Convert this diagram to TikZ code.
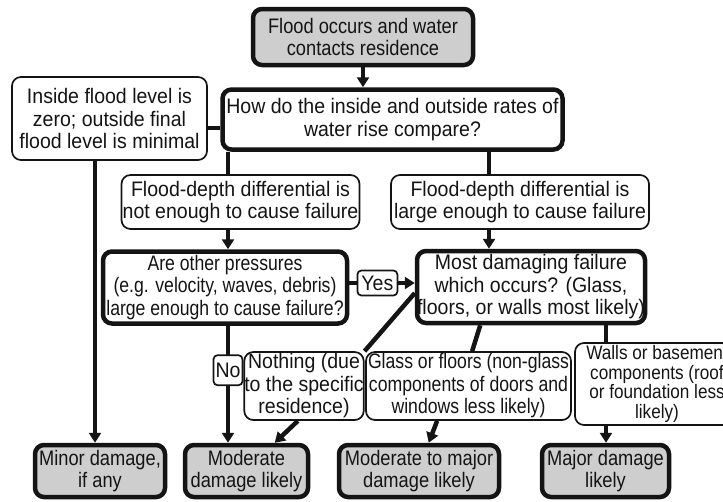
\documentclass[tikz,border=0pt]{standalone}
\usepackage{fontspec}
\setmainfont{Liberation Sans}[FakeStretch=0.93]
\newfontfamily\condfont{Liberation Sans}[FakeStretch=0.84]
\newfontfamily\midfont{Liberation Sans}[FakeStretch=0.87]
\newfontfamily\wallfont{Liberation Sans}[FakeStretch=0.88]
\usetikzlibrary{arrows.meta}
\definecolor{boxgray}{RGB}{206,206,206}
\definecolor{inkc}{RGB}{20,20,20}
\begin{document}
\begin{tikzpicture}[x=1pt,y=-1pt,
  base/.style={rounded corners=9pt, align=center, inner sep=0pt, text=inkc,
    font=\fontsize{21}{22.5}\selectfont},
  thinbox/.style={base, draw=inkc, line width=1.7pt, fill=white},
  thickbox/.style={base, draw=inkc, line width=4.5pt, fill=white},
  resultbox/.style={thickbox, fill=boxgray, font=\midfont\fontsize{21}{22.5}\selectfont},
  condtext/.style={font=\condfont\fontsize{21}{22.5}\selectfont},
  labbox/.style={thinbox, rounded corners=4pt},
  conn/.style={draw=inkc, line width=4.5pt},
  arr/.style={conn, -{Triangle[length=10pt,width=12pt]}}
]
\useasboundingbox[fill=white] (0,0) rectangle (723,501);

% coordinates for columns / rows
\coordinate (colI) at (95,0);
\coordinate (colL) at (228,0);
\coordinate (colR) at (489,0);
\coordinate (colW) at (606,0);
\coordinate (row1) at (0,128);
\coordinate (rowY) at (0,283);

% nodes
\node[resultbox, minimum width=220, minimum height=56] (top) at (363,37) {Flood occurs and water\\contacts residence};
\node[thickbox, minimum width=340, minimum height=60] (how) at (392.5,119.5) {How do the inside and outside rates of\\water rise compare?};
\node[thinbox, minimum width=195, minimum height=83] (inside) at (109.5,118.5) {Inside flood level is\\zero; outside final\\flood level is minimal};
\node[thinbox, minimum width=238, minimum height=54] (notenough) at (240.5,202) {Flood-depth differential is\\not enough to cause failure};
\node[thinbox, minimum width=258, minimum height=54] (largeenough) at (520,202) {Flood-depth differential is\\large enough to cause failure};
\node[thickbox, condtext, minimum width=244, minimum height=72] (are) at (225,287.5) {Are other pressures\\(e.g. velocity, waves, debris)\\large enough to cause failure?};
\node[thickbox, minimum width=228, minimum height=72] (most) at (531,287) {Most damaging failure\\which occurs? (Glass,\\floors, or walls most likely)};
\node[thinbox, minimum width=118, minimum height=68] (nothing) at (304,386) {Nothing (due\\to the specific\\residence)};
\node[thinbox, condtext, minimum width=205, minimum height=68] (glass) at (468.5,386) {Glass or floors (non-glass\\components of doors and\\windows less likely)};
\node[thinbox, minimum width=164, minimum height=82, font=\wallfont\fontsize{19.5}{19.5}\selectfont] (walls) at (657,384) {Walls or basement\\components (roof\\or foundation less\\likely)};
\node[resultbox, minimum width=130, minimum height=52] (minor) at (100,471) {Minor damage,\\if any};
\node[resultbox, minimum width=123, minimum height=52] (moderate) at (246.5,471) {Moderate\\damage likely};
\node[resultbox, minimum width=160, minimum height=52] (modmajor) at (419,471) {Moderate to major\\damage likely};
\node[resultbox, minimum width=127, minimum height=52] (major) at (605.5,471) {Major damage\\likely};

% connectors
\draw[arr] (top.south) -- (how.north -| top.south);
\draw[conn] (inside.east |- row1) -- (how.west |- row1);
\draw[arr] (inside.south -| colI) -- (minor.north -| colI);
\draw[conn] (how.south -| colL) -- (notenough.north -| colL);
\draw[arr] (notenough.south -| colL) -- (are.north -| colL);
\draw[conn] (how.south -| colR) -- (largeenough.north -| colR);
\draw[arr] (largeenough.south -| colR) -- (most.north -| colR);
\draw[arr] (are.east |- rowY) -- (most.west |- rowY)
  node[labbox, pos=0.43, minimum width=40, minimum height=25] (yes) {Yes};
\draw[arr] (are.south -| colL) -- (moderate.north -| colL)
  node[labbox, pos=0.38, minimum width=29, minimum height=30] (no) {No};
\draw[conn] (most.183) -- (nothing.north east);
\draw[arr] (nothing.260) -- (moderate.45);
\draw[conn] (most.217) -- (glass.84);
\draw[arr] (glass.228) -- (modmajor.71);
\draw[conn] (most.south -| colW) -- (walls.north -| colW);
\draw[arr] (walls.south -| colW) -- (major.north -| colW);
\end{tikzpicture}
\end{document}
